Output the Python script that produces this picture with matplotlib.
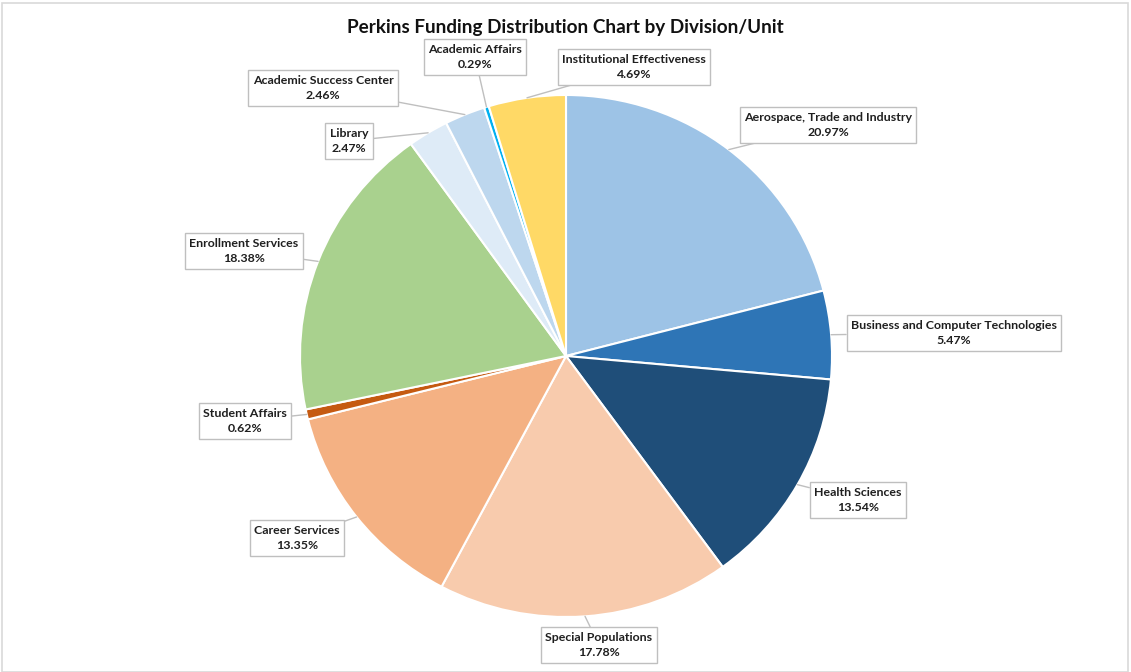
import matplotlib
matplotlib.use("Agg")
import matplotlib.pyplot as plt
import numpy as np

categories = ["Aerospace, Trade and Industry", "Business and Computer Technologies",
              "Health Sciences", "Special Populations", "Career Services",
              "Student Affairs", "Enrollment Services", "Library",
              "Academic Success Center", "Academic Affairs",
              "Institutional Effectiveness"]
values = [20.97, 5.47, 13.54, 17.78, 13.35, 0.62, 18.38, 2.47, 2.46, 0.29, 4.69]
colors = ["#9DC3E6", "#2E75B6", "#1F4E79", "#F8CBAD", "#F4B183", "#C55A11",
          "#A9D18E", "#DEEBF7", "#BDD7EE", "#00B0F0", "#FFD966"]
title = "Perkins Funding Distribution Chart by Division/Unit"

# label box centres in pixels from the top-left corner (layout only)
label_pos = [(828, 125), (954, 333), (858, 500), (599, 645), (297, 538),
             (245, 421), (244, 251), (349, 141), (323, 88), (475, 57), (634, 67)]

W, H = 1131, 672
fig = plt.figure(figsize=(W / 100, H / 100), dpi=100)
plt.rcParams['font.family'] = ['Lato', 'DejaVu Sans']

# frame
fig.add_artist(plt.Rectangle((2 / W, 0.5 / H), 1126 / W, 668.5 / H,
                             transform=fig.transFigure, fill=False,
                             edgecolor="#D9D9D9", linewidth=1.2))

cx, cy, rx, ry = 566, 356, 266, 261
ax = fig.add_axes([(cx - rx) / W, (H - cy - ry) / H, 2 * rx / W, 2 * ry / H])
wedges, _ = ax.pie(values, colors=colors, startangle=90, counterclock=False,
                   radius=1, wedgeprops=dict(edgecolor="white", linewidth=1.5))
ax.set_aspect('auto')
ax.set_xlim(-1, 1)
ax.set_ylim(-1, 1)
ax.axis('off')

total = sum(values)
cum = 0
for i, (cat, v) in enumerate(zip(categories, values)):
    mid = 90 - (cum + v / 2) / total * 360
    cum += v
    tip = (np.cos(np.radians(mid)), np.sin(np.radians(mid)))
    px, py = label_pos[i]
    ax.annotate(f"{cat}\n{v:.2f}%", xy=tip, xycoords='data',
                xytext=(px, H - py), textcoords='figure pixels',
                ha='center', va='center', fontsize=8.9, fontweight='bold',
                color="#1f1f1f", linespacing=1.5,
                bbox=dict(boxstyle="square,pad=0.36", facecolor="white",
                          edgecolor="#BFBFBF", linewidth=1),
                arrowprops=dict(arrowstyle='-', color="#BFBFBF", linewidth=1,
                                shrinkA=0, shrinkB=0),
                annotation_clip=False)

fig.text(565.5 / W, 1 - 27 / H, title, ha='center', va='center',
         fontsize=13.6, fontweight='bold', color="#111111")

fig.savefig("out.png", dpi=100)
